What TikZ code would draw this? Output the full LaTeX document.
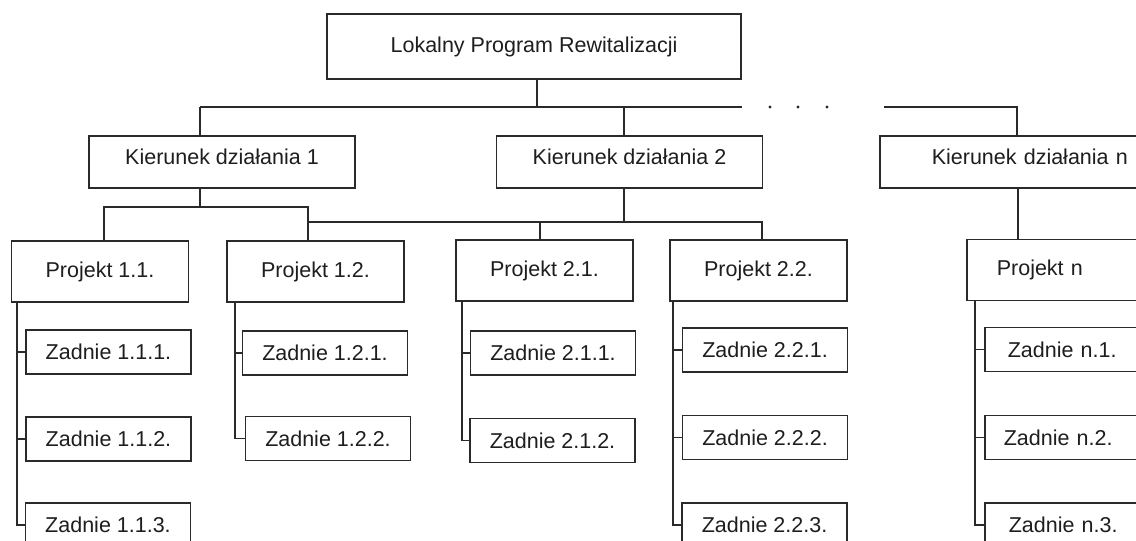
\documentclass[tikz,border=0pt]{standalone}
\usepackage{fontspec}
\setmainfont{Liberation Sans}
\definecolor{linec}{HTML}{2A2A2A}
\definecolor{textc}{HTML}{1E1E1E}
\begin{document}
\begin{tikzpicture}[x=0.5pt,y=-0.5pt,
  ln/.style={draw=linec, line width=0.8pt},
  box/.style={draw=linec, line width=0.8pt, fill=white, text=textc,
    font=\fontsize{10.75}{13}\selectfont, inner sep=0pt, anchor=center},
  topbox/.style={box, minimum width=207pt, minimum height=32.5pt},
  kierbox/.style={box, minimum width=133pt, minimum height=26pt, text depth=5pt},
  projbox/.style={box, minimum width=88.5pt, minimum height=30.5pt},
  zadbox/.style={box, minimum width=82.5pt, minimum height=22pt},
  cutbox/.style={align=left, anchor=west},
]
\useasboundingbox (0,0) rectangle (1136,541);
\fill[white] (0,0) rectangle (1136,541);
\clip (0,0) rectangle (1136,541);

% top
\node[topbox] (top) at (534,46.5) {Lokalny Program Rewitalizacji};

% kierunki
\node[kierbox] (K1) at (222,162) {Kierunek działania 1};
\node[kierbox] (K2) at (629.5,162) {Kierunek działania 2};
\node[kierbox, cutbox, inner xsep=26pt, text width=100pt] (Kn) at (879,162) {Kierunek działania n};

% projekty
\node[projbox] (P11) at (100,271.5) {Projekt 1.1.};
\node[projbox] (P12) at (315.5,271.5) {Projekt 1.2.};
\node[projbox] (P21) at (544.5,270.5) {Projekt 2.1.};
\node[projbox] (P22) at (758.5,270.5) {Projekt 2.2.};
\node[projbox, cutbox, inner xsep=15pt, text width=75pt] (Pn) at (966,270) {Projekt n};

% zadania
\node[zadbox] (Z111) at (108.5,352) {Zadnie 1.1.1.};
\node[zadbox] (Z112) at (108.5,439) {Zadnie 1.1.2.};
\node[zadbox] (Z113) at (108,525) {Zadnie 1.1.3.};
\node[zadbox] (Z121) at (325,353) {Zadnie 1.2.1.};
\node[zadbox] (Z122) at (328,438.5) {Zadnie 1.2.2.};
\node[zadbox] (Z211) at (553,353) {Zadnie 2.1.1.};
\node[zadbox] (Z212) at (552.5,440.5) {Zadnie 2.1.2.};
\node[zadbox] (Z221) at (765,350) {Zadnie 2.2.1.};
\node[zadbox] (Z222) at (765,437.5) {Zadnie 2.2.2.};
\node[zadbox] (Z223) at (764.5,525) {Zadnie 2.2.3.};
\node[zadbox, cutbox, inner xsep=11.5pt, text width=65pt] (Zn1) at (984,349.5) {Zadnie n.1.};
\node[zadbox, cutbox, inner xsep=9.5pt, text width=65pt] (Zn2) at (984,437.5) {Zadnie n.2.};
\node[zadbox, cutbox, inner xsep=12pt, text width=65pt] (Zn3) at (984,525) {Zadnie n.3.};

% level 1 bus
\coordinate (j0) at (537,107);
\coordinate (b1) at (200,107);
\coordinate (b2) at (742,107);
\coordinate (k2t) at (624,107);
\coordinate (bn1) at (884,107);
\coordinate (bn2) at (1017,107);
\draw[ln] (top.south -| j0) -- (j0);
\draw[ln] (b1) -- (b2);
\draw[ln] (b1) -- (b1 |- K1.north);
\draw[ln] (k2t) -- (k2t |- K2.north);
\draw[ln] (bn1) -- (bn2) -- (bn2 |- Kn.north);
\foreach \x in {770,798,827} \fill[linec] (\x,107) circle (1.6);

% level 2: K1
\coordinate (c1) at (200,207);
\coordinate (c1l) at (104,207);
\coordinate (c1r) at (308,207);
\draw[ln] (c1 |- K1.south) -- (c1);
\draw[ln] (c1l |- P11.north) -- (c1l) -- (c1r) -- (c1r |- P12.north);
% level 2: K2
\coordinate (c2) at (624,222);
\coordinate (c2l) at (308,222);
\coordinate (c2a) at (540,222);
\coordinate (c2r) at (762,222);
\draw[ln] (c2 |- K2.south) -- (c2);
\draw[ln] (c2l) -- (c2r) -- (c2r |- P22.north);
\draw[ln] (c2a) -- (c2a |- P21.north);
% level 2: Kn
\coordinate (cn) at (1018,0);
\draw[ln] (cn |- Kn.south) -- (cn |- Pn.north);

% spines
\coordinate (s11) at (17,0);
\draw[ln] (s11 |- P11.south) |- (Z113.west);
\draw[ln] (Z111.west) -- (Z111.west -| s11);
\draw[ln] (Z112.west) -- (Z112.west -| s11);

\coordinate (s12) at (235,0);
\draw[ln] (s12 |- P12.south) |- (Z122.west);
\draw[ln] (Z121.west) -- (Z121.west -| s12);

\coordinate (s21) at (462,0);
\draw[ln] (s21 |- P21.south) |- (Z212.west);
\draw[ln] (Z211.west) -- (Z211.west -| s21);

\coordinate (s22) at (673,0);
\draw[ln] (s22 |- P22.south) |- (Z223.west);
\draw[ln] (Z221.west) -- (Z221.west -| s22);
\draw[ln] (Z222.west) -- (Z222.west -| s22);

\coordinate (sn) at (975,0);
\draw[ln] (sn |- Pn.south) |- (Zn3.west);
\draw[ln] (Zn1.west) -- (Zn1.west -| sn);
\draw[ln] (Zn2.west) -- (Zn2.west -| sn);
\end{tikzpicture}
\end{document}
